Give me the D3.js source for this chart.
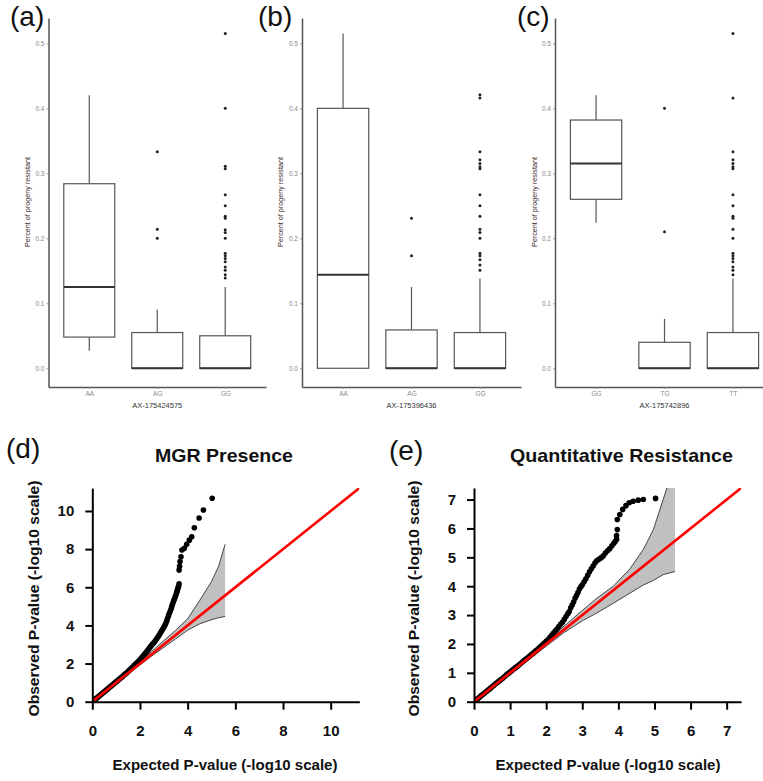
<!DOCTYPE html>
<html>
<head>
<meta charset="utf-8">
<script src="https://cdn.jsdelivr.net/npm/d3@7"></script>
<style>
  body { margin: 0; background: #fff; }
  svg { display: block; font-family: "Liberation Sans", Arial, sans-serif; }
</style>
</head>
<body>
<script>
// --- Data: boxplots (a)-(c) ---
// each box: [lower whisker, Q1, median, Q3, upper whisker]
const catsA = ["AA", "AG", "GG"];
const boxA = [[0.027, 0.048, 0.125, 0.284, 0.42], [0, 0, 0, 0.055, 0.09], [0, 0, 0, 0.05, 0.125]];
const outA = [[], [0.333, 0.214, 0.2],
  [0.515, 0.4, 0.311, 0.307, 0.267, 0.25, 0.234, 0.231, 0.213, 0.209, 0.2, 0.177, 0.173, 0.169, 0.164, 0.156, 0.151, 0.144, 0.139]];

const catsB = ["AA", "AG", "GG"];
const boxB = [[0, 0, 0.144, 0.4, 0.515], [0, 0, 0, 0.059, 0.125], [0, 0, 0, 0.055, 0.138]];
const outB = [[], [0.231, 0.173],
  [0.421, 0.416, 0.333, 0.321, 0.315, 0.31, 0.307, 0.267, 0.25, 0.234, 0.214, 0.209, 0.2, 0.177, 0.173, 0.167, 0.159, 0.151]];

const catsC = ["GG", "TG", "TT"];
const boxC = [[0.224, 0.26, 0.315, 0.382, 0.42], [0, 0, 0, 0.04, 0.076], [0, 0, 0, 0.055, 0.138]];
const outC = [[], [0.4, 0.21],
  [0.515, 0.416, 0.333, 0.321, 0.315, 0.31, 0.307, 0.267, 0.25, 0.234, 0.231, 0.214, 0.2, 0.177, 0.173, 0.169, 0.164, 0.156, 0.151, 0.144]];

const boxTicks = [0, 0.1, 0.2, 0.3, 0.4, 0.5];

// --- Data: QQ plots (d), (e) ---
const expD = [0.05, 0.1, 0.15, 0.2, 0.25, 0.3, 0.35, 0.4, 0.45, 0.5, 0.55, 0.6, 0.65, 0.7, 0.75, 0.8, 0.85, 0.9, 0.95, 1.0,
  1.05, 1.1, 1.15, 1.2, 1.25, 1.3, 1.35, 1.4, 1.45, 1.5, 1.55, 1.6, 1.65, 1.7, 1.75, 1.8, 1.85, 1.9, 1.95, 2.0,
  2.05, 2.1, 2.15, 2.2, 2.25, 2.3, 2.35, 2.4, 2.45, 2.5, 2.55, 2.6, 2.65, 2.7, 2.75, 2.8, 2.85, 2.9, 2.95, 3.0,
  3.04, 3.08, 3.12, 3.15, 3.19, 3.22, 3.26, 3.3, 3.33, 3.36, 3.39, 3.42, 3.45, 3.48, 3.51, 3.54, 3.56, 3.58, 3.6, 3.62,
  3.64, 3.64, 3.66, 3.68, 3.72, 3.76, 3.86, 3.96, 4.07, 4.17, 4.28, 4.48, 4.66, 5.03];
const obsD = [0.05, 0.1, 0.16, 0.21, 0.26, 0.31, 0.36, 0.42, 0.47, 0.52, 0.57, 0.62, 0.68, 0.73, 0.78, 0.83, 0.89, 0.94, 0.99, 1.04,
  1.1, 1.15, 1.2, 1.25, 1.31, 1.36, 1.42, 1.47, 1.52, 1.58, 1.64, 1.7, 1.76, 1.82, 1.89, 1.95, 2.01, 2.07, 2.13, 2.2,
  2.28, 2.35, 2.42, 2.5, 2.57, 2.65, 2.74, 2.82, 2.9, 2.98, 3.05, 3.12, 3.21, 3.3, 3.39, 3.48, 3.59, 3.7, 3.8, 3.9,
  4.0, 4.1, 4.22, 4.35, 4.48, 4.6, 4.72, 4.85, 4.97, 5.1, 5.2, 5.3, 5.4, 5.5, 5.61, 5.72, 5.81, 5.9, 5.98, 6.05,
  6.18, 6.9, 7.1, 7.35, 7.6, 7.95, 8.04, 8.25, 8.47, 8.65, 9.12, 9.63, 10.05, 10.67];
const bandXD = [0, 1, 2, 2.5, 3, 3.5, 4, 4.5, 5, 5.3, 5.57];
const bandHiD = [0, 1.05, 2.1, 2.65, 3.2, 3.75, 4.35, 5.3, 6.3, 7.1, 8.25];
const bandLoD = [0, 0.97, 1.92, 2.4, 2.85, 3.3, 3.75, 4.08, 4.3, 4.4, 4.47];
const ticksD = [0, 2, 4, 6, 8, 10];

const expE = [0.05, 0.1, 0.15, 0.2, 0.25, 0.3, 0.35, 0.4, 0.45, 0.5, 0.55, 0.6, 0.65, 0.7, 0.75, 0.8, 0.85, 0.9, 0.95, 1.0,
  1.05, 1.1, 1.15, 1.2, 1.25, 1.3, 1.35, 1.4, 1.45, 1.5, 1.55, 1.6, 1.65, 1.7, 1.75, 1.8, 1.85, 1.9, 1.95, 2.0,
  2.05, 2.1, 2.15, 2.2, 2.25, 2.3, 2.35, 2.4, 2.45, 2.5, 2.55, 2.6, 2.64, 2.68, 2.72, 2.76, 2.8, 2.84, 2.88, 2.92,
  2.96, 3.0, 3.05, 3.1, 3.15, 3.2, 3.25, 3.3, 3.35, 3.4, 3.46, 3.52, 3.58, 3.64, 3.7, 3.76, 3.82, 3.87, 3.91, 3.95,
  3.95, 3.97, 3.97, 4.04, 4.12, 4.21, 4.3, 4.41, 4.55, 4.69, 5.03];
const obsE = [0.05, 0.1, 0.15, 0.21, 0.26, 0.31, 0.36, 0.41, 0.46, 0.52, 0.57, 0.62, 0.67, 0.72, 0.77, 0.82, 0.87, 0.93, 0.98, 1.03,
  1.08, 1.13, 1.18, 1.23, 1.28, 1.33, 1.38, 1.44, 1.49, 1.54, 1.59, 1.64, 1.69, 1.75, 1.8, 1.86, 1.92, 1.97, 2.03, 2.09,
  2.14, 2.22, 2.3, 2.37, 2.45, 2.52, 2.6, 2.68, 2.75, 2.85, 2.95, 3.05, 3.12, 3.25, 3.35, 3.45, 3.58, 3.68, 3.78, 3.9,
  3.98, 4.05, 4.15, 4.26, 4.38, 4.5, 4.6, 4.7, 4.8, 4.88, 4.93, 4.98, 5.05, 5.15, 5.23, 5.3, 5.4, 5.48, 5.55, 5.62,
  5.75, 5.96, 6.31, 6.48, 6.66, 6.79, 6.89, 6.94, 6.98, 7.0, 7.04];
const bandXE = [0, 1, 2, 2.5, 3, 3.4, 3.86, 4.32, 4.69, 4.97, 5.24, 5.57];
const bandHiE = [0, 1.04, 2.08, 2.62, 3.16, 3.58, 4.0, 4.6, 5.27, 5.96, 7.0, 8.25];
const bandLoE = [0, 0.97, 1.92, 2.4, 2.8, 3.07, 3.41, 3.76, 4.04, 4.2, 4.4, 4.51];
const ticksE = [0, 1, 2, 3, 4, 5, 6, 7];

// --- SVG Setup ---
const W = 763, H = 781;
const svg = d3.select("body").append("svg")
  .attr("width", W).attr("height", H);

svg.append("rect").attr("width", W).attr("height", H).attr("fill", "#fff");

// --- Boxplot panels ---
function boxPanel(cats, boxes, outs, x0, x1, xTitle, yTitleX) {
  const x = d3.scalePoint().domain(cats).range([x0, x1]).padding(0.6);
  const y = d3.scaleLinear().domain([-0.0288, 0.539]).range([387, 18]);
  const bw = x.step() * 0.75;
  const g = svg.append("g");

  const yAxis = g.append("g")
    .attr("transform", `translate(${x0},0)`)
    .call(d3.axisLeft(y).tickValues(boxTicks).tickFormat(d3.format(".1f"))
      .tickSize(2).tickSizeOuter(0).tickPadding(2));
  const xAxis = g.append("g")
    .attr("transform", "translate(0,387)")
    .call(d3.axisBottom(x).tickSize(2).tickSizeOuter(0).tickPadding(2));

  for (const ax of [yAxis, xAxis]) {
    ax.select(".domain").attr("stroke", "#555").attr("stroke-width", 1.5);
    ax.selectAll(".tick line").attr("stroke", "#888").attr("stroke-width", 0.8);
    ax.selectAll(".tick text").attr("fill", "#888").attr("font-size", 6.5)
      .attr("font-family", "'Liberation Sans', Arial, sans-serif");
  }

  // y title
  g.append("text")
    .attr("transform", `translate(${yTitleX},202) rotate(-90)`)
    .attr("text-anchor", "middle")
    .attr("font-size", 7.2)
    .attr("fill", "#3a2a2a")
    .text("Percent of progeny resistant");

  // x title
  g.append("text")
    .attr("x", (x0 + x1) / 2).attr("y", 407.5)
    .attr("text-anchor", "middle")
    .attr("font-size", 7.5)
    .attr("fill", "#333")
    .text(xTitle);

  const items = cats.map((c, i) => ({ c, s: boxes[i], o: outs[i] }));
  const bg = g.selectAll("g.box").data(items).enter().append("g").attr("class", "box");

  // whiskers
  bg.append("line")
    .attr("x1", d => x(d.c)).attr("x2", d => x(d.c))
    .attr("y1", d => y(d.s[3])).attr("y2", d => y(d.s[4]))
    .attr("stroke", "#555").attr("stroke-width", 1.2);
  bg.append("line")
    .attr("x1", d => x(d.c)).attr("x2", d => x(d.c))
    .attr("y1", d => y(d.s[1])).attr("y2", d => y(d.s[0]))
    .attr("stroke", "#555").attr("stroke-width", 1.2);

  // box
  bg.append("rect")
    .attr("x", d => x(d.c) - bw / 2).attr("width", bw)
    .attr("y", d => y(d.s[3])).attr("height", d => y(d.s[1]) - y(d.s[3]))
    .attr("fill", "#fff").attr("stroke", "#555").attr("stroke-width", 1.2);

  // median
  bg.append("line")
    .attr("x1", d => x(d.c) - bw / 2).attr("x2", d => x(d.c) + bw / 2)
    .attr("y1", d => y(d.s[2])).attr("y2", d => y(d.s[2]))
    .attr("stroke", "#333").attr("stroke-width", 2);

  // outliers
  bg.selectAll("circle").data(d => d.o.map(v => ({ c: d.c, v }))).enter()
    .append("circle")
    .attr("cx", d => x(d.c)).attr("cy", d => y(d.v)).attr("r", 1.5)
    .attr("fill", "#222");
}

boxPanel(catsA, boxA, outA, 48.5, 266, "AX-175424575", 29.5);
boxPanel(catsB, boxB, outB, 302, 521, "AX-175396436", 282.5);
boxPanel(catsC, boxC, outC, 555, 774, "AX-175742896", 536.5);

// --- QQ panels ---
function qqPanel(id, ex, ob, bx, bhi, blo, ticks, max, x0, x1, title, titleX, titleLen, xTitleX, yTitleX) {
  const y0 = 701.7;
  const x = d3.scaleLinear().domain([0, max]).range([x0, x1]);
  const ppu = (x1 - x0) / max * 0.8;
  const y = d3.scaleLinear().domain([0, max]).range([y0, y0 - max * ppu]);
  const g = svg.append("g");

  g.append("clipPath").attr("id", "clip" + id)
    .append("rect")
    .attr("x", x(0)).attr("y", y(max))
    .attr("width", x(max) - x(0)).attr("height", y(0) - y(max));

  const plot = g.append("g").attr("clip-path", `url(#clip${id})`);
  const idx = d3.range(bx.length);

  // confidence band
  plot.append("path")
    .attr("d", d3.area().x(i => x(bx[i])).y0(i => y(blo[i])).y1(i => y(bhi[i]))(idx))
    .attr("fill", "#c0c0c0");
  for (const arr of [bhi, blo]) {
    plot.append("path")
      .attr("d", d3.line().x(i => x(bx[i])).y(i => y(arr[i]))(idx))
      .attr("fill", "none").attr("stroke", "#444").attr("stroke-width", 1);
  }

  // points
  plot.selectAll("circle").data(d3.range(ex.length)).enter()
    .append("circle")
    .attr("cx", i => x(ex[i])).attr("cy", i => y(ob[i])).attr("r", 2.8)
    .attr("fill", "#000");

  // identity line (drawn over the points)
  plot.append("path")
    .attr("d", d3.line().x(d => x(d)).y(d => y(d))([0, max]))
    .attr("stroke", "#ff0000").attr("stroke-width", 2.6);

  // axes
  const yAxis = g.append("g")
    .attr("transform", `translate(${x0},0)`)
    .call(d3.axisLeft(y).tickValues(ticks).tickFormat(d3.format("d"))
      .tickSize(7).tickSizeOuter(0).tickPadding(11));
  const xAxis = g.append("g")
    .attr("transform", `translate(0,${y0})`)
    .call(d3.axisBottom(x).tickValues(ticks).tickFormat(d3.format("d"))
      .tickSize(8).tickSizeOuter(0).tickPadding(16));
  for (const ax of [yAxis, xAxis]) {
    ax.select(".domain").attr("stroke", "#000").attr("stroke-width", 2);
    ax.selectAll(".tick line").attr("stroke", "#000").attr("stroke-width", 2);
    ax.selectAll(".tick text").attr("fill", "#111").attr("font-size", 15).attr("font-weight", "bold")
      .attr("font-family", "'Liberation Sans', Arial, sans-serif");
  }

  // title
  g.append("text")
    .attr("x", titleX).attr("y", 461.5)
    .attr("text-anchor", "middle")
    .attr("font-size", 18.5).attr("font-weight", "bold").attr("fill", "#111")
    .attr("textLength", titleLen).attr("lengthAdjust", "spacingAndGlyphs")
    .text(title);

  g.append("text")
    .attr("x", xTitleX).attr("y", 769.5)
    .attr("text-anchor", "middle")
    .attr("font-size", 15.5).attr("font-weight", "bold").attr("fill", "#111")
    .attr("textLength", 225).attr("lengthAdjust", "spacingAndGlyphs")
    .text("Expected P-value (-log10 scale)");

  g.append("text")
    .attr("transform", `translate(${yTitleX},598.5) rotate(-90)`)
    .attr("text-anchor", "middle")
    .attr("font-size", 15.5).attr("font-weight", "bold").attr("fill", "#111")
    .attr("textLength", 236).attr("lengthAdjust", "spacingAndGlyphs")
    .text("Observed P-value (-log10 scale)");
}

qqPanel("d", expD, obsD, bandXD, bandHiD, bandLoD, ticksD, 11.2, 92.3, 359.3,
  "MGR Presence", 224, 138, 225, 39);
qqPanel("e", expE, obsE, bandXE, bandHiE, bandLoE, ticksE, 7.4, 474, 741.1,
  "Quantitative Resistance", 621.5, 223, 608, 419);

// --- Panel letters ---
const letters = [["(a)", 10, 25.5], ["(b)", 258, 25.5], ["(c)", 517, 25.5], ["(d)", 6, 458], ["(e)", 389, 460]];
svg.selectAll("text.letter").data(letters).enter()
  .append("text").attr("class", "letter")
  .attr("x", d => d[1]).attr("y", d => d[2])
  .attr("font-size", 28).attr("fill", "#111")
  .text(d => d[0]);
</script>
</body>
</html>
